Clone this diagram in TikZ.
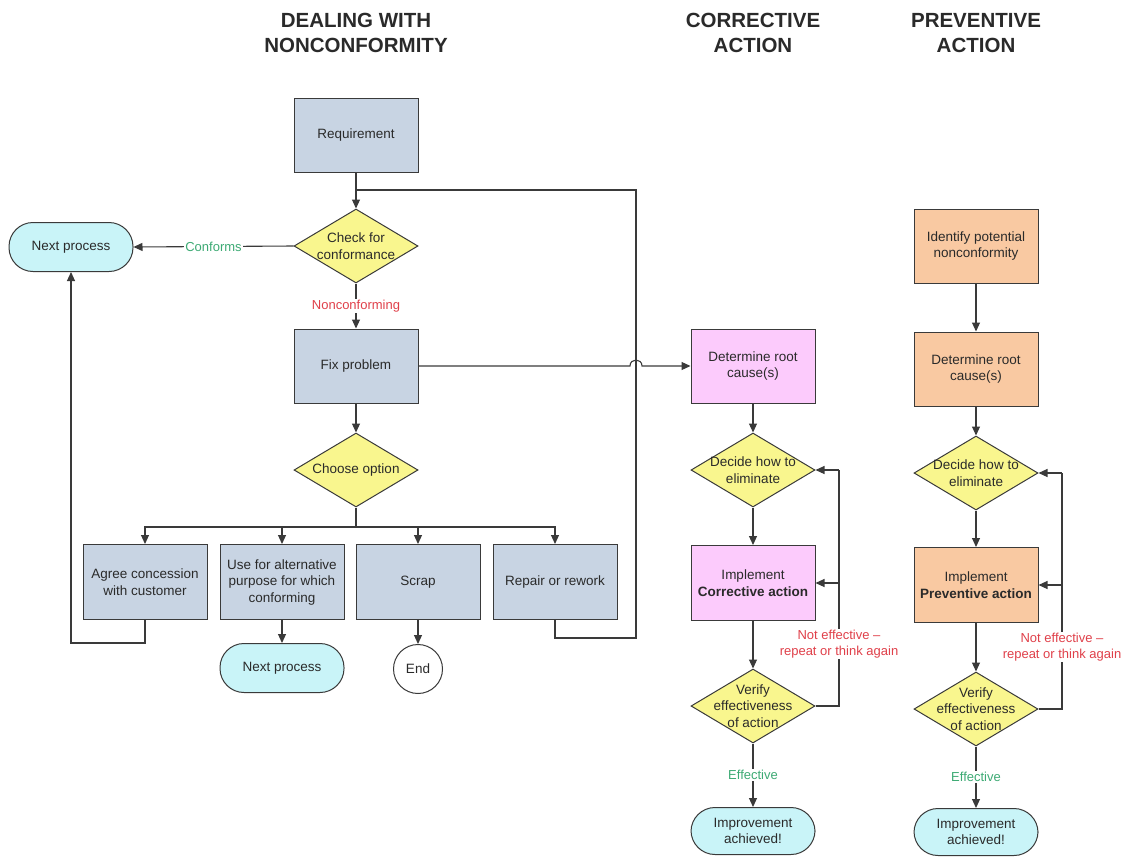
\documentclass[tikz,border=0pt]{standalone}
\usepackage{fontspec}
\setmainfont{Liberation Sans}
\usetikzlibrary{shapes.geometric,arrows.meta}
\definecolor{boxblue}{HTML}{C8D4E3}
\definecolor{dyellow}{HTML}{F9F68E}
\definecolor{ocyan}{HTML}{C9F4F8}
\definecolor{cpink}{HTML}{FCCBFC}
\definecolor{porange}{HTML}{F9C9A2}
\definecolor{edgec}{HTML}{3A3A3A}
\definecolor{txtc}{HTML}{2A2A2A}
\definecolor{lgreen}{HTML}{3DAA74}
\definecolor{lred}{HTML}{E0404A}
\begin{document}
\begin{tikzpicture}[x=1pt,y=-1pt,
  font=\fontsize{13.5}{16.5}\selectfont,
  base/.style={draw=edgec, line width=1pt, text=txtc, align=center},
  proc/.style={base, rectangle, minimum width=124pt, minimum height=74pt, fill=boxblue},
  dia/.style={base, diamond, minimum width=124pt, minimum height=74pt, inner sep=0pt, fill=dyellow},
  diatext/.style={text=txtc, align=center, inner sep=0pt},
  term/.style={base, rectangle, rounded corners=24pt, minimum width=124pt, minimum height=49pt, fill=ocyan},
  endnode/.style={base, circle, minimum size=49pt, inner sep=0pt, fill=white},
  title/.style={font=\fontsize{20.5}{25}\selectfont\bfseries, text=txtc, align=center},
  line/.style={draw=edgec, line width=1.1pt},
  conn/.style={line, -{Triangle[length=9pt,width=8pt]}},
  lab/.style={fill=white, inner sep=1pt, align=center, font=\fontsize{13}{16.5}\selectfont},
  glab/.style={lab, text=lgreen},
  rlab/.style={lab, text=lred}]
\useasboundingbox (0,0) rectangle (1134,857);

% titles
\node[title] (t1) at (356,33) {DEALING WITH\\NONCONFORMITY};
\node[title] (t2) at (753,33) {CORRECTIVE\\ACTION};
\node[title] (t3) at (976,33) {PREVENTIVE\\ACTION};

% left column
\node[proc] (req) at (356,135) {Requirement};
\node[dia] (check) at (356,246) {};
\node[diatext] (checkt) at (check) {Check for\\conformance};
\node[term] (nextA) at (71,247) {Next process};
\node[proc] (fix) at (356,366) {Fix problem};
\node[dia] (choose) at (356,470) {};
\node[diatext] (chooset) at (choose) {Choose option};
\node[proc, minimum height=75pt] (agree) at (145,582) {Agree concession\\with customer};
\node[proc, minimum height=75pt] (usefor) at (282,582) {Use for alternative\\purpose for which\\conforming};
\node[proc, minimum height=75pt] (scrap) at (418,582) {Scrap};
\node[proc, minimum height=75pt] (repair) at (555,582) {Repair or rework};
\node[term] (nextB) at (282,668) {Next process};
\node[endnode] (endc) at (418,669) {End};

% corrective column
\node[proc, fill=cpink] (root1) at (753,366) {Determine root\\cause(s)};
\node[dia] (decide1) at (753,470) {};
\node[diatext] (decide1t) at (decide1) {Decide how to\\eliminate};
\node[proc, fill=cpink, minimum height=75pt] (impl1) at (753,583) {Implement\\\textbf{Corrective action}};
\node[dia] (verify1) at (753,706) {};
\node[diatext] (verify1t) at (verify1) {Verify\\effectiveness\\of action};
\node[term, minimum height=47pt] (impr1) at (753,831) {Improvement\\achieved!};

% preventive column
\node[proc, fill=porange] (ident) at (976,246) {Identify potential\\nonconformity};
\node[proc, fill=porange] (root2) at (976,369) {Determine root\\cause(s)};
\node[dia] (decide2) at (976,473) {};
\node[diatext] (decide2t) at (decide2) {Decide how to\\eliminate};
\node[proc, fill=porange, minimum height=75pt] (impl2) at (976,585) {Implement\\\textbf{Preventive action}};
\node[dia] (verify2) at (976,709) {};
\node[diatext] (verify2t) at (verify2) {Verify\\effectiveness\\of action};
\node[term, minimum height=47pt] (impr2) at (976,832) {Improvement\\achieved!};

% left connectors
\coordinate (j1) at (356,190);
\coordinate (r1) at (636,638);
\draw[conn] (req.south) -- (check.north);
\draw[line] (repair.south) |- (r1) |- (j1);
\draw[conn] (check.west) -- node[glab] (conf) {Conforms} (nextA.east);
\draw[conn] (check.south) -- node[rlab] (nonc) {Nonconforming} (fix.north);
\draw[conn] (fix.south) -- (choose.north);
\coordinate (b) at (356,527);
\draw[line] (choose.south) -- (b);
\draw[conn] (b) -| (agree.north);
\draw[conn] (b) -| (usefor.north);
\draw[conn] (b) -| (scrap.north);
\draw[conn] (b) -| (repair.north);
\draw[conn] (usefor.south) -- (nextB.north);
\draw[conn] (scrap.south) -- (endc.north);
\coordinate (a1) at (145,643);
\draw[conn] (agree.south) -- (a1) -| (nextA.south);
\coordinate (h1) at (630,366);
\coordinate (h2) at (642,366);
\draw[conn] (fix.east) -- (h1) .. controls (630,358) and (642,358) .. (h2) -- (root1.west);

% corrective connectors
\draw[conn] (root1.south) -- (decide1.north);
\draw[conn] (decide1.south) -- (impl1.north);
\draw[conn] (impl1.south) -- (verify1.north);
\draw[conn] (verify1.south) -- node[glab] (eff1) {Effective} (impr1.north);
\coordinate (c1) at (839,706);
\coordinate (c2) at (839,470);
\coordinate (c3) at (839,583);
\draw[line] (verify1.east) -- (c1) -- (c2);
\draw[conn] (c2) -- (decide1.east);
\draw[conn] (c3) -- (impl1.east);
\node[rlab] (ne1) at (839,644) {Not effective –\\repeat or think again};

% preventive connectors
\draw[conn] (ident.south) -- (root2.north);
\draw[conn] (root2.south) -- (decide2.north);
\draw[conn] (decide2.south) -- (impl2.north);
\draw[conn] (impl2.south) -- (verify2.north);
\draw[conn] (verify2.south) -- node[glab] (eff2) {Effective} (impr2.north);
\coordinate (p1) at (1062,709);
\coordinate (p2) at (1062,473);
\coordinate (p3) at (1062,585);
\draw[line] (verify2.east) -- (p1) -- (p2);
\draw[conn] (p2) -- (decide2.east);
\draw[conn] (p3) -- (impl2.east);
\node[rlab] (ne2) at (1062,647) {Not effective –\\repeat or think again};
\end{tikzpicture}
\end{document}
